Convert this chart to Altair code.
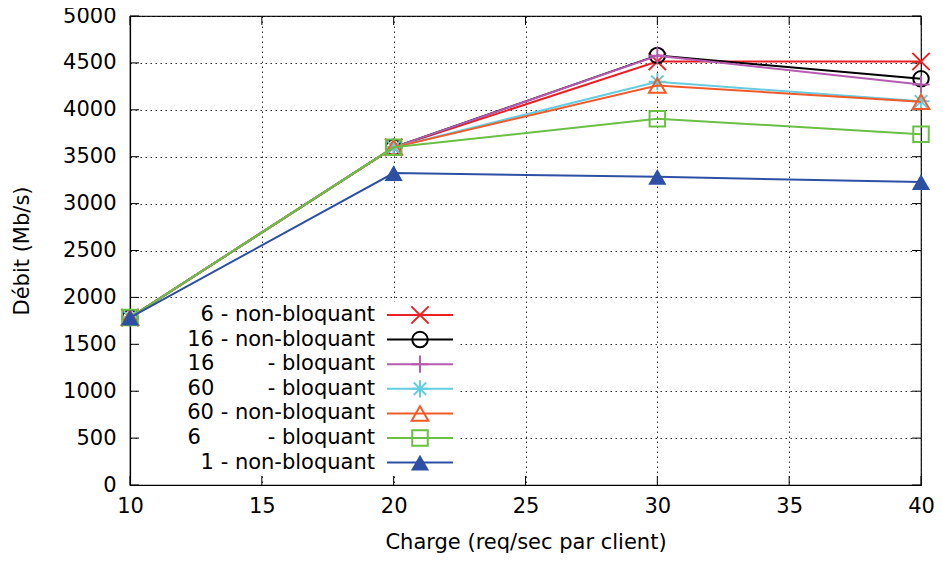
import altair as alt
import pandas as pd

NB = "\u00a0"

# ---- data ----
charge = [10, 20, 30, 40]
series = [
    "6 - non-bloquant",
    "16 - non-bloquant",
    "16" + NB * 8 + "- bloquant",
    "60" + NB * 8 + "- bloquant",
    "60 - non-bloquant",
    "6" + NB * 10 + "- bloquant",
    "1 - non-bloquant",
]
v_6_nb = [1785, 3600, 4515, 4515]
v_16_nb = [1785, 3600, 4580, 4330]
v_16_b = [1785, 3600, 4575, 4270]
v_60_b = [1785, 3600, 4300, 4090]
v_60_nb = [1785, 3600, 4260, 4085]
v_6_b = [1785, 3600, 3905, 3740]
v_1_nb = [1785, 3325, 3285, 3230]
values = [v_6_nb, v_16_nb, v_16_b, v_60_b, v_60_nb, v_6_b, v_1_nb]

x_ticks = [10, 15, 20, 25, 30, 35, 40]
y_ticks = list(range(0, 5001, 500))

# ---- styles ----
colors = ["#ec2024", "#000000", "#b55cb0", "#66cde0", "#f25a2a", "#6abf45", "#2e50a4"]
shapes = [
    "M-1,-1L1,1M-1,1L1,-1",
    "circle",
    "M-1,0L1,0M0,-1L0,1",
    "M-1,0L1,0M0,-1L0,1M-0.72,-0.72L0.72,0.72M-0.72,0.72L0.72,-0.72",
    "triangle-up",
    "square",
    "triangle-up",
]
sizes = [300, 240, 300, 300, 280, 240, 330]
filled = [False, False, False, False, False, False, True]

W, H = 791, 469
FONT = "DejaVu Sans"
FS = 21

rows = []
for s, vals in zip(series, values):
    for c, v in zip(charge, vals):
        rows.append({"series": s, "charge": c, "debit": v})
df = pd.DataFrame(rows)

xscale = alt.Scale(domain=[10, 40], nice=False, zero=False)
yscale = alt.Scale(domain=[0, 5000], nice=False)

X = alt.X("charge:Q", scale=xscale,
          axis=alt.Axis(values=x_ticks, title="Charge (req/sec par client)", format="d"))
Y = alt.Y("debit:Q", scale=yscale,
          axis=alt.Axis(values=y_ticks, title="Débit (Mb/s)", format="d"))

layers = []

# legend background (blanks grid behind key)
layers.append(
    alt.Chart(pd.DataFrame({"k": [0]})).mark_rect(color="white").encode(
        x=alt.value(9), x2=alt.value(327), y=alt.value(286), y2=alt.value(459)
    )
)

# inward tick marks on all four sides
ydf = pd.DataFrame({"debit": y_ticks})
xdf = pd.DataFrame({"charge": x_ticks})
layers.append(alt.Chart(ydf).mark_rule(color="black").encode(
    y=alt.Y("debit:Q", scale=yscale), x=alt.value(0), x2=alt.value(9)))
layers.append(alt.Chart(ydf).mark_rule(color="black").encode(
    y=alt.Y("debit:Q", scale=yscale), x=alt.value(W - 9), x2=alt.value(W)))
layers.append(alt.Chart(xdf).mark_rule(color="black").encode(
    x=alt.X("charge:Q", scale=xscale), y=alt.value(H - 9), y2=alt.value(H)))
layers.append(alt.Chart(xdf).mark_rule(color="black").encode(
    x=alt.X("charge:Q", scale=xscale), y=alt.value(0), y2=alt.value(9)))

# data series
for i, s in enumerate(series):
    sub = df[df["series"] == s]
    base = alt.Chart(sub).encode(x=X, y=Y)
    layers.append(base.mark_line(color=colors[i], strokeWidth=2))
    layers.append(base.mark_point(
        shape=shapes[i], color=colors[i], size=sizes[i], filled=filled[i],
        strokeWidth=2, opacity=1))

# key
y0, dy = 299, 24.6
for i, s in enumerate(series):
    ly = y0 + i * dy
    ldf = pd.DataFrame({"label": [s]})
    layers.append(alt.Chart(ldf).mark_text(
        align="right", baseline="middle", font=FONT, fontSize=FS, color="black"
    ).encode(text="label:N", x=alt.value(245), y=alt.value(ly)))
    layers.append(alt.Chart(ldf).mark_rule(color=colors[i], strokeWidth=2).encode(
        x=alt.value(257), x2=alt.value(323), y=alt.value(ly)))
    layers.append(alt.Chart(ldf).mark_point(
        shape=shapes[i], color=colors[i], size=sizes[i], filled=filled[i],
        strokeWidth=2, opacity=1).encode(x=alt.value(290), y=alt.value(ly)))

chart = alt.layer(*layers).properties(
    width=W, height=H,
    autosize=alt.AutoSizeParams(type="none"),
    padding={"left": 122, "top": 8, "right": 14, "bottom": 71},
).configure_view(
    stroke="black", strokeWidth=1.2
).configure_axis(
    labelFont=FONT, labelFontSize=FS, labelColor="black",
    titleFont=FONT, titleFontSize=FS, titleFontWeight="normal", titleColor="black",
    domainColor="black", domainWidth=1.2,
    ticks=False, labelFlush=False, labelOverlap=False,
    grid=True, gridColor="#333333", gridDash=[1.5, 3.5], gridWidth=1,
).configure_axisY(
    labelPadding=14, titlePadding=30
).configure_axisX(
    labelPadding=10, titlePadding=15
)

chart.save("out.html", embed_options={"renderer": "svg", "actions": False})
